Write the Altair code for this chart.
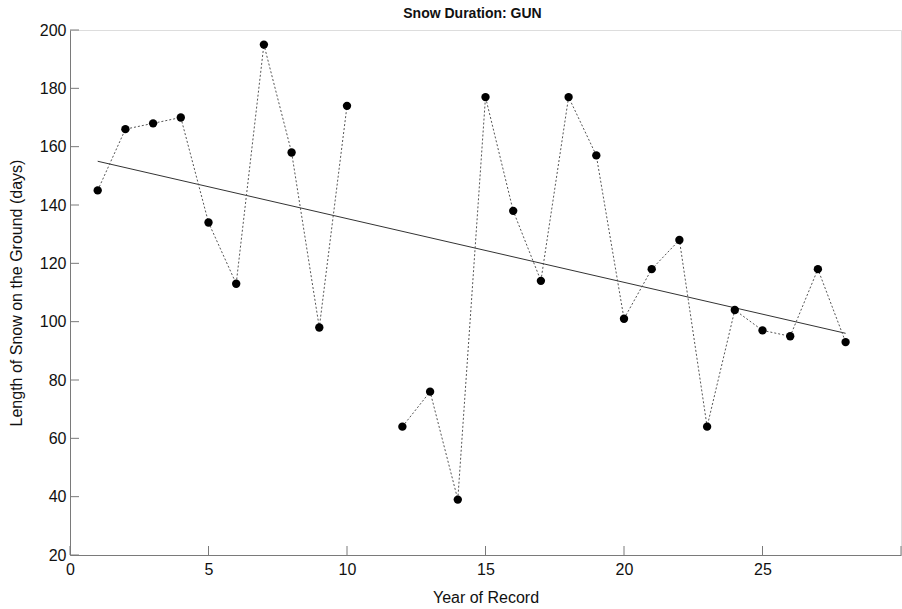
import altair as alt
import pandas as pd

years = [1, 2, 3, 4, 5, 6, 7, 8, 9, 10, 12, 13, 14, 15, 16, 17, 18, 19, 20,
         21, 22, 23, 24, 25, 26, 27, 28]
days = [145, 166, 168, 170, 134, 113, 195, 158, 98, 174, 64, 76, 39, 177, 138,
        114, 177, 157, 101, 118, 128, 64, 104, 97, 95, 118, 93]
segment = [1 if y < 11 else 2 for y in years]

x_ticks = [0, 5, 10, 15, 20, 25, 30]
y_ticks = [20, 40, 60, 80, 100, 120, 140, 160, 180, 200]

df = pd.DataFrame({"year": years, "days": days, "seg": segment})

W, H = 831, 525
FONT = "Liberation Sans"
AX = "#7a7a7a"

xs = alt.Scale(domain=[0, 30], nice=False, zero=False)
ys = alt.Scale(domain=[20, 200], nice=False, zero=False)

xaxis = alt.Axis(values=x_ticks, ticks=False, grid=False, domainColor=AX,
                 labelExpr="datum.value == 30 ? '' : datum.label",
                 labelFlush=False,
                 labelFontSize=16, labelColor="#111", labelPadding=6,
                 titleFontSize=16, titleFontWeight="normal", titleColor="#111",
                 titlePadding=12, labelFont=FONT, titleFont=FONT)
yaxis = alt.Axis(values=y_ticks, ticks=False, grid=False, domainColor=AX,
                 labelFlush=False,
                 labelFontSize=16, labelColor="#111", labelPadding=4,
                 titleFontSize=16, titleFontWeight="normal", titleColor="#111",
                 titlePadding=15, labelFont=FONT, titleFont=FONT)

base = alt.Chart(df)

line = base.mark_line(color="#555", strokeWidth=1, strokeDash=[2, 2]).encode(
    x=alt.X("year:Q", scale=xs, axis=xaxis, title="Year of Record"),
    y=alt.Y("days:Q", scale=ys, axis=yaxis,
            title="Length of Snow on the Ground (days)"),
    detail="seg:N",
)

pts = base.mark_circle(color="black", opacity=1, size=70).encode(
    x=alt.X("year:Q", scale=xs),
    y=alt.Y("days:Q", scale=ys),
)

trend = base.transform_regression("year", "days").mark_line(
    color="#333", strokeWidth=1).encode(
    x=alt.X("year:Q", scale=xs),
    y=alt.Y("days:Q", scale=ys),
)

xt = pd.DataFrame({"v": x_ticks})
yt = pd.DataFrame({"v": y_ticks})

xtick = alt.Chart(xt).mark_rule(color=AX, strokeWidth=1).encode(
    x=alt.X("v:Q", scale=xs),
    y=alt.value(H), y2=alt.value(H - 9),
)
ytick = alt.Chart(yt).mark_rule(color=AX, strokeWidth=1).encode(
    y=alt.Y("v:Q", scale=ys),
    x=alt.value(0), x2=alt.value(9),
)

chart = alt.layer(xtick, ytick, trend, line, pts).properties(
    width=W, height=H,
    title=alt.TitleParams("Snow Duration: GUN", fontSize=14, fontWeight="bold",
                          font=FONT, color="#111", anchor="middle", dx=-13,
                          frame="group", offset=1),
    padding={"left": 70, "top": 30, "right": 1, "bottom": 54},
    autosize="none",
).configure_view(stroke=None).configure(background="white")

chart.save("out.html", embed_options={"renderer": "svg", "actions": False})
